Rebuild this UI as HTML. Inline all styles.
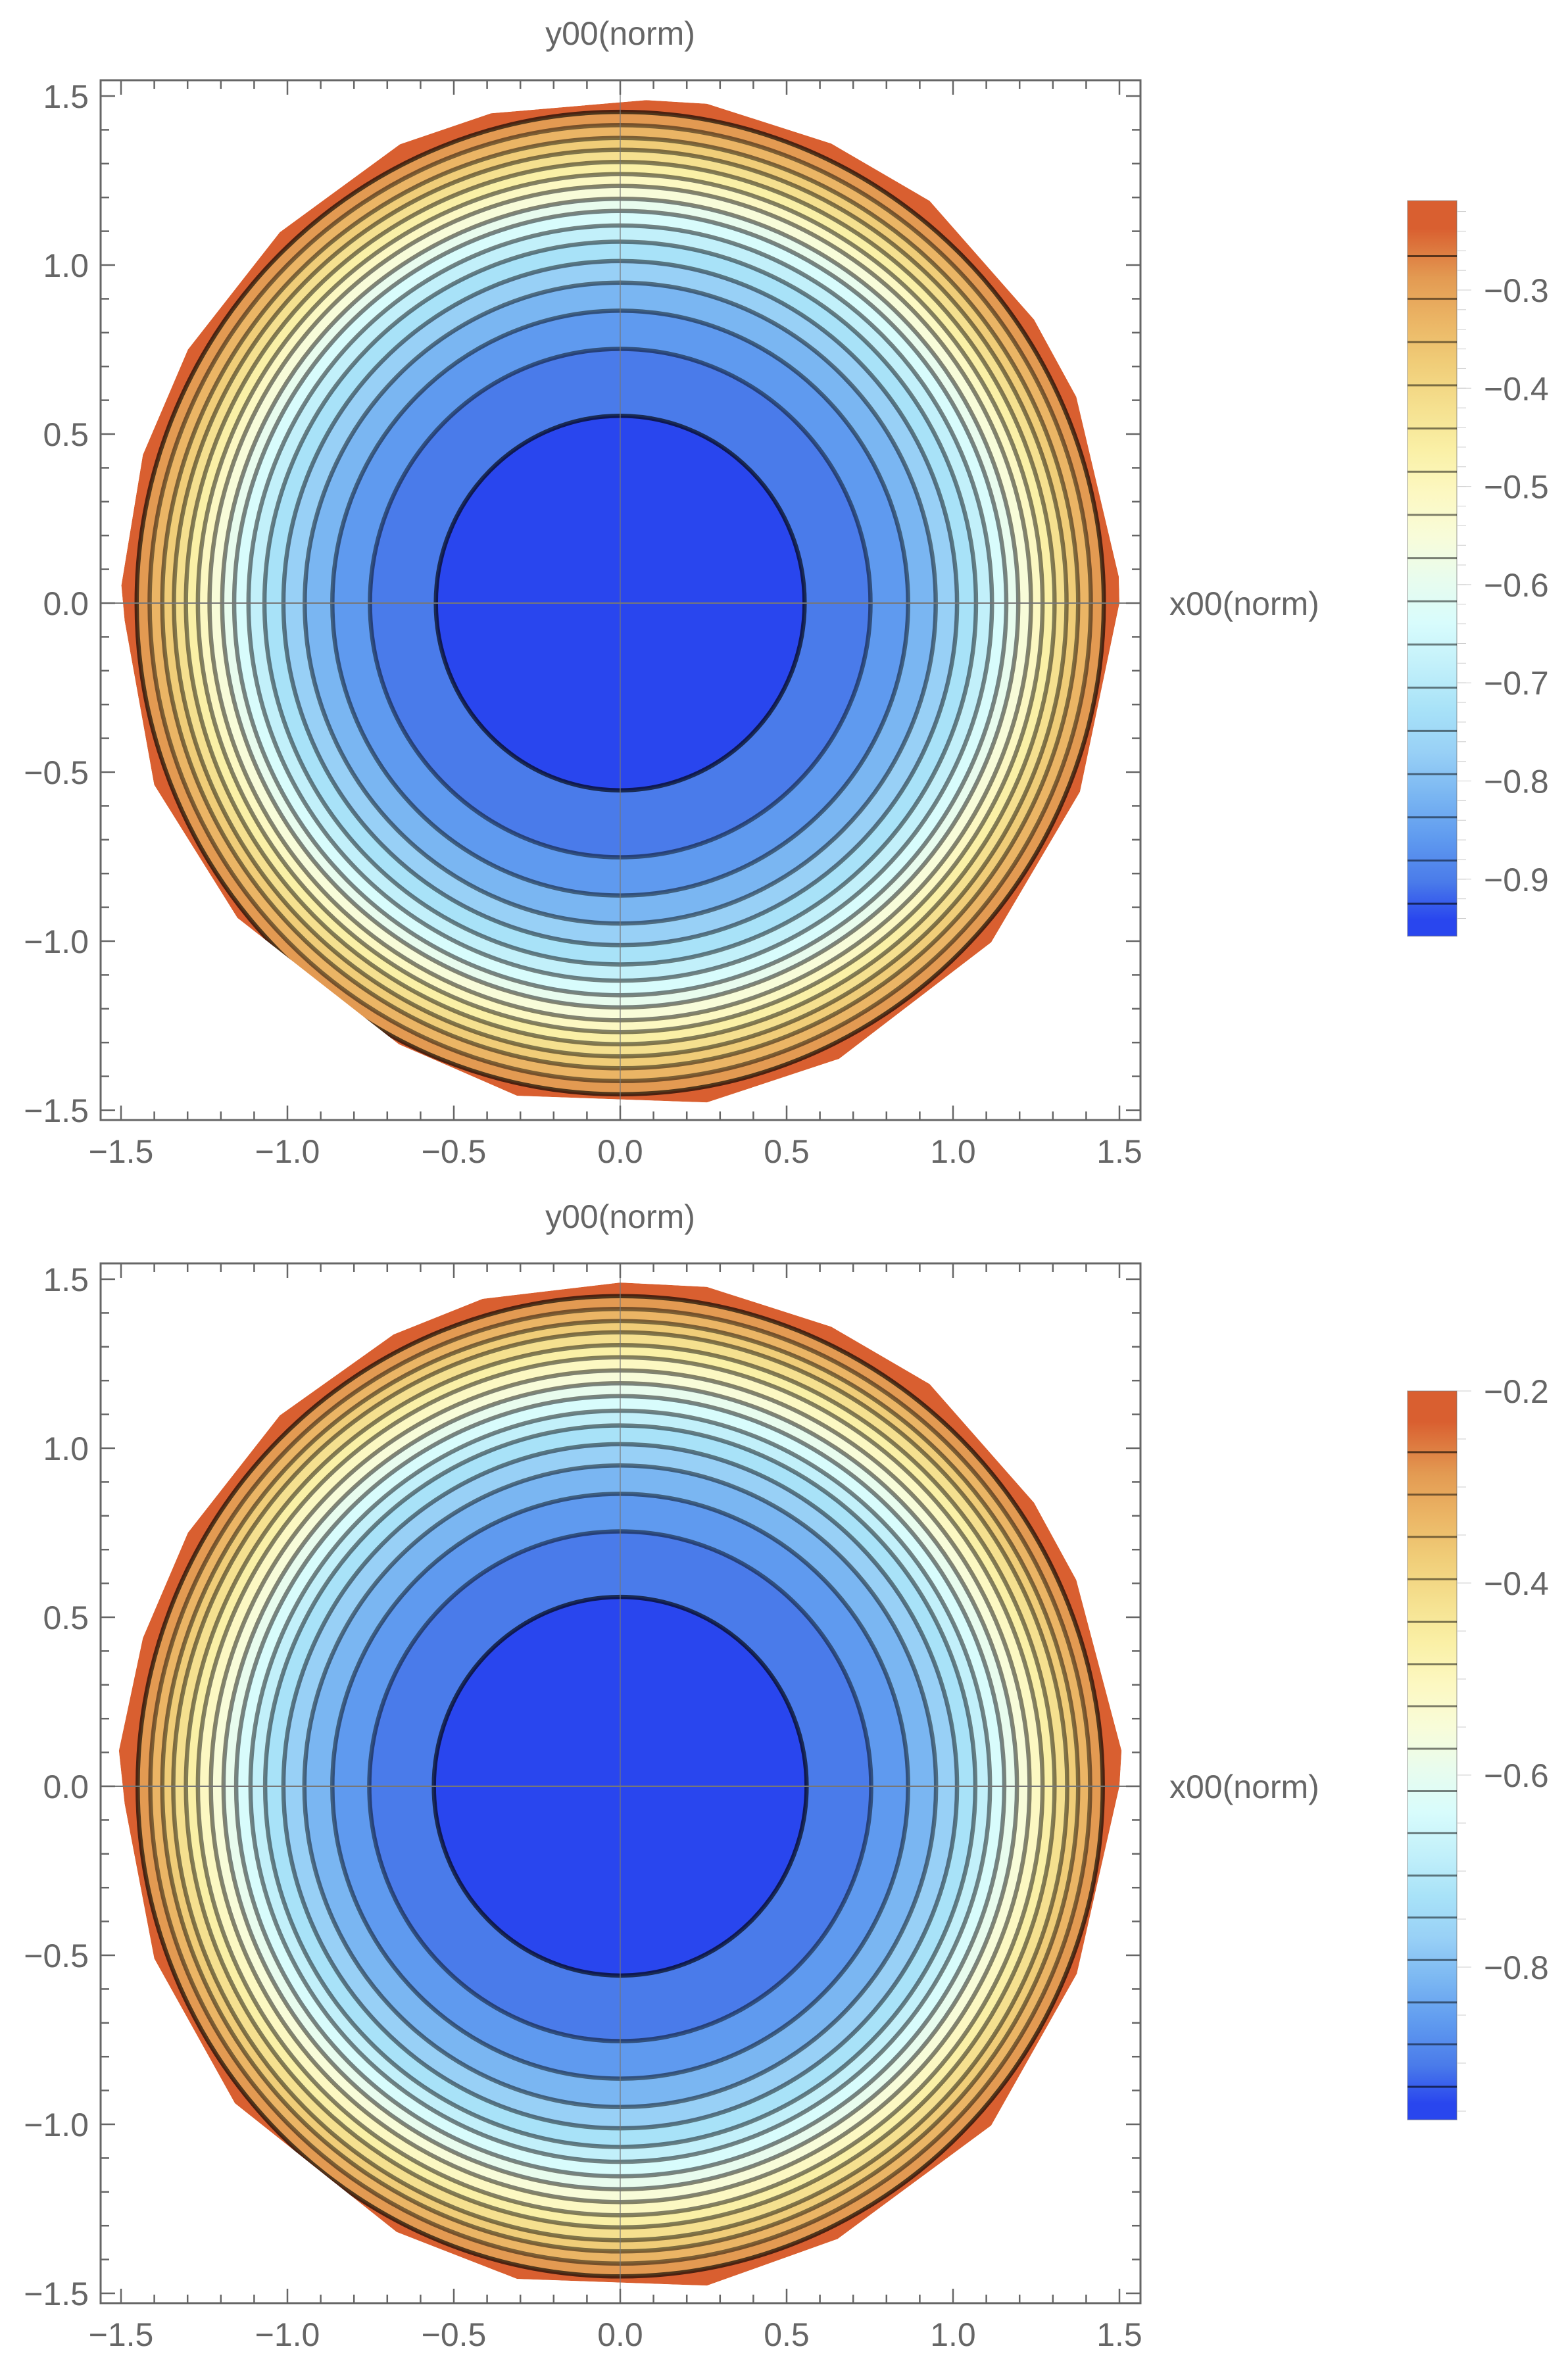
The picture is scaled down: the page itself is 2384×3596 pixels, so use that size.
<!DOCTYPE html>
<html><head><meta charset="utf-8">
<style>
html,body{margin:0;padding:0;background:#fff;}
svg{display:block;}
text{font-family:"Liberation Sans",sans-serif;fill:#666;}
</style></head>
<body>
<svg id="chart" width="2384" height="3596" viewBox="0 0 2384 3596" xmlns="http://www.w3.org/2000/svg">
<defs id="defs"></defs>
</svg>
<script>
// ---- data ----
const bandColors = ["#2946ee","#4a7bea","#5f9aef","#7ab6f2","#98d0f6","#a8e2f8","#c2f0fa","#d8fcfc","#e8fcee","#f8fcd9","#fcf8c2","#faf0a6","#f5e08f","#f0cd78","#ebb565","#e39a52","#d95f30"];
const levels1 = [-0.925,-0.881,-0.837,-0.793,-0.749,-0.705,-0.661,-0.617,-0.573,-0.529,-0.485,-0.441,-0.397,-0.353,-0.309,-0.2655];
const radii1 = [0.554,0.752,0.865,0.948,1.012,1.069,1.117,1.160,1.196,1.234,1.269,1.305,1.341,1.376,1.414,1.453];
const levels2 = [-0.9247,-0.8805,-0.8368,-0.7926,-0.7484,-0.7047,-0.6605,-0.6168,-0.5726,-0.5284,-0.4847,-0.4405,-0.396,-0.352,-0.3079,-0.2637];
const radii2 = [0.560,0.754,0.865,0.949,1.012,1.067,1.111,1.154,1.192,1.230,1.269,1.305,1.343,1.376,1.412,1.450];
const boundaryAngles1 = [87,105,116,133,150,163,178,182,201,219,243,258,280,296,318,338,0,3,24,34,52,65,80];
const boundaryRadii1  = [1.49,1.50,1.51,1.50,1.50,1.50,1.50,1.49,1.50,1.48,1.465,1.49,1.50,1.50,1.50,1.49,1.50,1.50,1.50,1.50,1.51,1.50,1.50];
const boundaryAngles2 = [90,106,117,133,150,163,176,182,200,219,243,258,280,296,318,338,0,4,24,34,52,65,80];
const boundaryRadii2  = [1.49,1.50,1.50,1.50,1.50,1.50,1.51,1.49,1.49,1.49,1.48,1.49,1.50,1.49,1.50,1.48,1.50,1.51,1.50,1.50,1.51,1.50,1.50];
const axisTicks = [-1.5,-1.0,-0.5,0.0,0.5,1.0,1.5];
const axisTickLabels = ["\u22121.5","\u22121.0","\u22120.5","0.0","0.5","1.0","1.5"];
const cb1Ticks = [-0.3,-0.4,-0.5,-0.6,-0.7,-0.8,-0.9];
const cb1Labels = ["\u22120.3","\u22120.4","\u22120.5","\u22120.6","\u22120.7","\u22120.8","\u22120.9"];
const cb2Ticks = [-0.2,-0.4,-0.6,-0.8];
const cb2Labels = ["\u22120.2","\u22120.4","\u22120.6","\u22120.8"];

const NS = "http://www.w3.org/2000/svg";
const svg = document.getElementById('chart');
const defs = document.getElementById('defs');
function mk(tag, attrs, parent){
  const e = document.createElementNS(NS, tag);
  for (const k in attrs) e.setAttribute(k, attrs[k]);
  (parent||svg).appendChild(e);
  return e;
}

function drawPlot(idx, oy, radii, levels, bAng, bRad, cb){
  const ox = 943, sx = 506, sy = 514;
  const X = v => ox + v*sx, Y = v => oy - v*sy;
  const left = 153, right = 1734, top = oy - 795, bottom = oy + 786;
  const g = mk('g', {});
  
  
  const cp = mk('clipPath', {id:'clip'+idx}, defs);
  const pts = bAng.map((a,i)=>{
    const t = a*Math.PI/180;
    return X(bRad[i]*Math.cos(t)).toFixed(1)+','+Y(bRad[i]*Math.sin(t)).toFixed(1);
  }).join(' ');
  mk('polygon', {points: pts}, cp);
  const region = mk('g', {'clip-path':'url(#clip'+idx+')'}, g);
  
  
  const outer = mk('polygon', {points: pts, fill: bandColors[radii.length]}, region);
  
  
  for (let i = radii.length-1; i >= 0; i--){
    const b = mk('ellipse', {cx:X(0), cy:Y(0), rx:radii[i]*sx, ry:radii[i]*sy, fill:bandColors[i]}, region);
    
    
  }
  for (let i = 0; i < radii.length; i++){
    const darkness = (i===0 || i===radii.length-1) ? 0.65 : 0.48;
    const c = mk('ellipse', {cx:X(0), cy:Y(0), rx:radii[i]*sx, ry:radii[i]*sy, fill:'none', stroke:'#000', 'stroke-opacity':darkness, 'stroke-width':6.5}, region);
    
    
  }
  const ax = mk('line', {x1:left, x2:right, y1:Y(0), y2:Y(0), stroke:'#777', 'stroke-width':2}, g);
  
  
  const ay = mk('line', {x1:X(0), x2:X(0), y1:top, y2:bottom, stroke:'#777', 'stroke-width':1.5, 'stroke-opacity':0.8}, g);
  
  
  const fr = mk('rect', {x:left, y:top, width:right-left, height:bottom-top, fill:'none', stroke:'#666', 'stroke-width':3}, g);
  
  
  for (let k = -15; k <= 15; k++){
    const v = k/10, major = (k % 5 === 0);
    const L = major ? 22 : 13;
    const xx = X(v), yy = Y(v);
    const t1 = mk('line', {x1:xx, x2:xx, y1:bottom, y2:bottom-L, stroke:'#666', 'stroke-width':2.5}, g);
    
    
    const t2 = mk('line', {x1:xx, x2:xx, y1:top, y2:top+L, stroke:'#666', 'stroke-width':2.5}, g);
    
    
    const t3 = mk('line', {x1:left, x2:left+L, y1:yy, y2:yy, stroke:'#666', 'stroke-width':2.5}, g);
    
    
    const t4 = mk('line', {x1:right, x2:right-L, y1:yy, y2:yy, stroke:'#666', 'stroke-width':2.5}, g);
    
    
  }
  axisTicks.forEach((v,i)=>{
    const tx = mk('text', {x:X(v), y:bottom+65, 'font-size':50, 'text-anchor':'middle'}, g);
    tx.textContent = axisTickLabels[i];
    
    
    const ty = mk('text', {x:135, y:Y(v)+18, 'font-size':50, 'text-anchor':'end'}, g);
    ty.textContent = axisTickLabels[i];
    
    
  });
  const yt = mk('text', {x:X(0), y:top-54, 'font-size':50, 'text-anchor':'middle'}, g);
  yt.textContent = 'y00(norm)';
  
  
  const xt = mk('text', {x:1778, y:Y(0)+18, 'font-size':50}, g);
  xt.textContent = 'x00(norm)';
  
  

  const cg = mk('g', {});
  
  
  const CY = v => cb.y0 + (cb.v0 - v)*cb.scale;
  const bl = 2140, br = 2215;
  const grad = mk('linearGradient', {id:'grad'+idx, x1:0, y1:0, x2:0, y2:1}, defs);
  const bounds = [cb.vmin].concat(levels).concat([cb.vmax]);
  const span = CY(cb.vmin) - CY(cb.vmax);
  for (let i = bandColors.length-1; i >= 0; i--){
    const mid = (bounds[i] + bounds[i+1]) / 2;
    const off = (CY(mid) - CY(cb.vmax)) / span;
    mk('stop', {offset: off.toFixed(4), 'stop-color': bandColors[i]}, grad);
  }
  const bar = mk('rect', {x:bl, y:CY(cb.vmax), width:br-bl, height:span, fill:'url(#grad'+idx+')', stroke:'#777', 'stroke-opacity':0.5, 'stroke-width':1.5}, cg);
  
  
  levels.forEach((v,i)=>{
    const ln = mk('line', {x1:bl, x2:br, y1:CY(v), y2:CY(v), stroke:'#000', 'stroke-opacity':(i===0||i===levels.length-1)?0.6:0.5, 'stroke-width':3}, cg);
    
    
  });
  for (let v = cb.minorStart; v >= cb.vmin - 1e-9; v -= cb.minorStep){
    const m = mk('line', {x1:br, x2:br+14, y1:CY(v), y2:CY(v), stroke:'#ccc', 'stroke-width':1}, cg);
    
    
  }
  cb.ticks.forEach((v,i)=>{
    const t = mk('line', {x1:br, x2:br+22, y1:CY(v), y2:CY(v), stroke:'#ccc', 'stroke-width':1}, cg);
    
    
    const tx = mk('text', {x:2256, y:CY(v)+18, 'font-size':50}, cg);
    tx.textContent = cb.labels[i];
    
    
  });
}

drawPlot(1, 917, radii1, levels1, boundaryAngles1, boundaryRadii1,
  {y0:441, v0:-0.3, scale:1493, vmax:-0.209, vmin:-0.958, ticks:cb1Ticks, labels:cb1Labels, minorStart:-0.22, minorStep:0.02});
drawPlot(2, 2716, radii2, levels2, boundaryAngles2, boundaryRadii2,
  {y0:2115, v0:-0.2, scale:1460, vmax:-0.2, vmin:-0.959, ticks:cb2Ticks, labels:cb2Labels, minorStart:-0.25, minorStep:0.05});
</script>
</body></html>
